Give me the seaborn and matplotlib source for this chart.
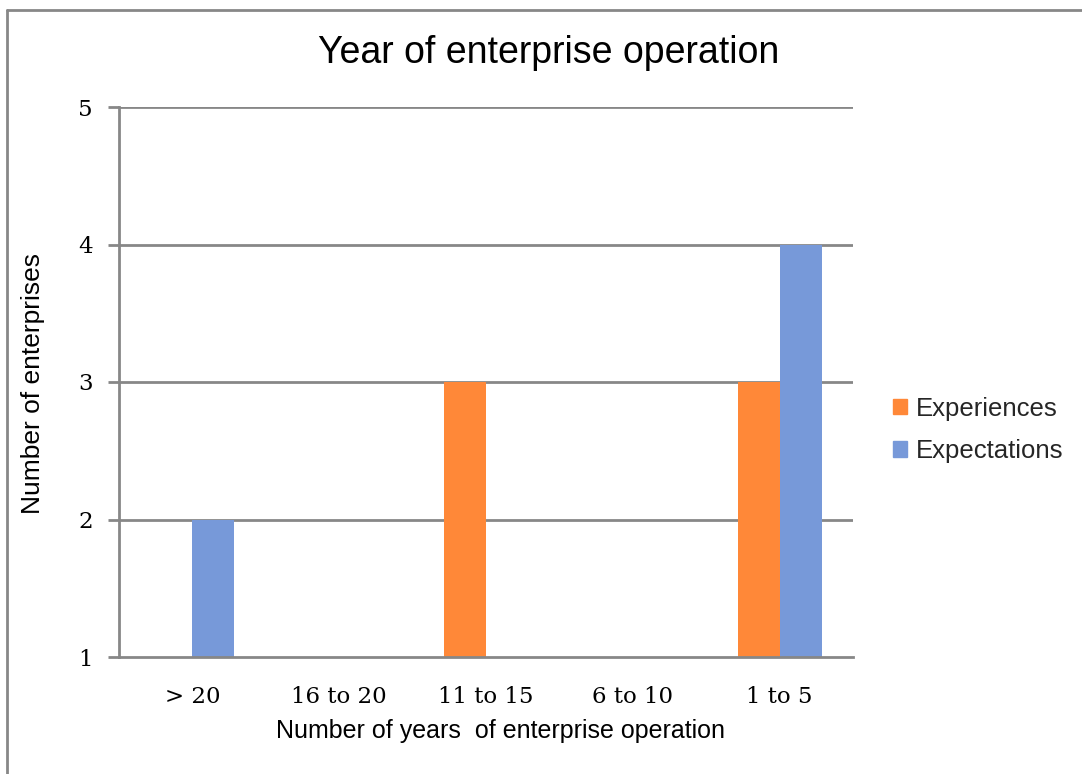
import matplotlib
matplotlib.use("Agg")
import matplotlib.pyplot as plt
import seaborn as sns
import pandas as pd
from matplotlib.lines import Line2D

categories = ["> 20", "16 to 20", "11 to 15", "6 to 10", "1 to 5"]
experiences = [0, 0, 3, 0, 3]
expectations = [2, 0, 0, 0, 4]
series_names = ["Experiences", "Expectations"]
colors = ["#FF8838", "#7799D9"]

df = pd.DataFrame({
    "category": categories * 2,
    "value": experiences + expectations,
    "series": [series_names[0]] * len(categories) + [series_names[1]] * len(categories),
})

sns.set_theme(style="white")
plt.rcParams['font.family'] = ['Liberation Sans', 'DejaVu Sans']

fig = plt.figure(figsize=(10.82, 7.74), dpi=100)
ax = fig.add_axes([119/1082, 1-657/774, (853-119)/1082, (657-107)/774])

sns.barplot(data=df, x="category", y="value", hue="series", order=categories,
            hue_order=series_names, palette=colors, width=0.572, gap=0,
            saturation=1, ax=ax, legend=True, edgecolor="none", linewidth=0)

ax.set_ylim(1, 5)
ax.set_yticks([1, 2, 3, 4, 5])
ax.set_xlim(-0.5, len(categories) - 0.5)
grid_c = "#878787"
for y in [2, 3, 4, 5]:
    ax.axhline(y, color=grid_c, lw=2, zorder=0.5)
ax.set_axisbelow(True)
for s in ["top", "right"]:
    ax.spines[s].set_visible(False)
for s in ["left", "bottom"]:
    ax.spines[s].set_color(grid_c)
    ax.spines[s].set_linewidth(2)
ax.tick_params(axis="y", left=True, length=8, width=2, color=grid_c, pad=11,
               labelsize=16.5)
ax.tick_params(axis="x", bottom=False, pad=15, labelsize=16.5)
for lab in ax.get_xticklabels() + ax.get_yticklabels():
    lab.set_fontfamily(["DejaVu Serif"])
    lab.set_color("black")
ax.set_xlabel("")
ax.set_ylabel("")

fig.text(549/1082, 1-53/774, "Year of enterprise operation", ha="center",
         va="center", fontsize=27, color="black")
fig.text(500/1082, 1-731/774, "Number of years  of enterprise operation",
         ha="center", va="center", fontsize=18, color="black")
fig.text(33/1082, 1-383/774, "Number of enterprises", ha="center",
         va="center", rotation=90, fontsize=19, color="black")

ax.legend_.remove()
handles = [plt.Rectangle((0, 0), 1, 1, color=c) for c in colors]
fig.legend(handles, series_names, loc="center left",
           bbox_to_anchor=(893/1082, 1-430/774), frameon=False, fontsize=18.5,
           handlelength=0.55, handleheight=0.55, handletextpad=0.35,
           labelspacing=0.72, borderaxespad=0, borderpad=0)

# outer chart frame
fig.add_artist(Line2D([7/1082, 1.0], [1-10/774, 1-10/774], color=grid_c, lw=2,
                      transform=fig.transFigure))
fig.add_artist(Line2D([7/1082, 7/1082], [0, 1-10/774], color=grid_c, lw=2,
                      transform=fig.transFigure))

fig.savefig("out.png", dpi=100)
